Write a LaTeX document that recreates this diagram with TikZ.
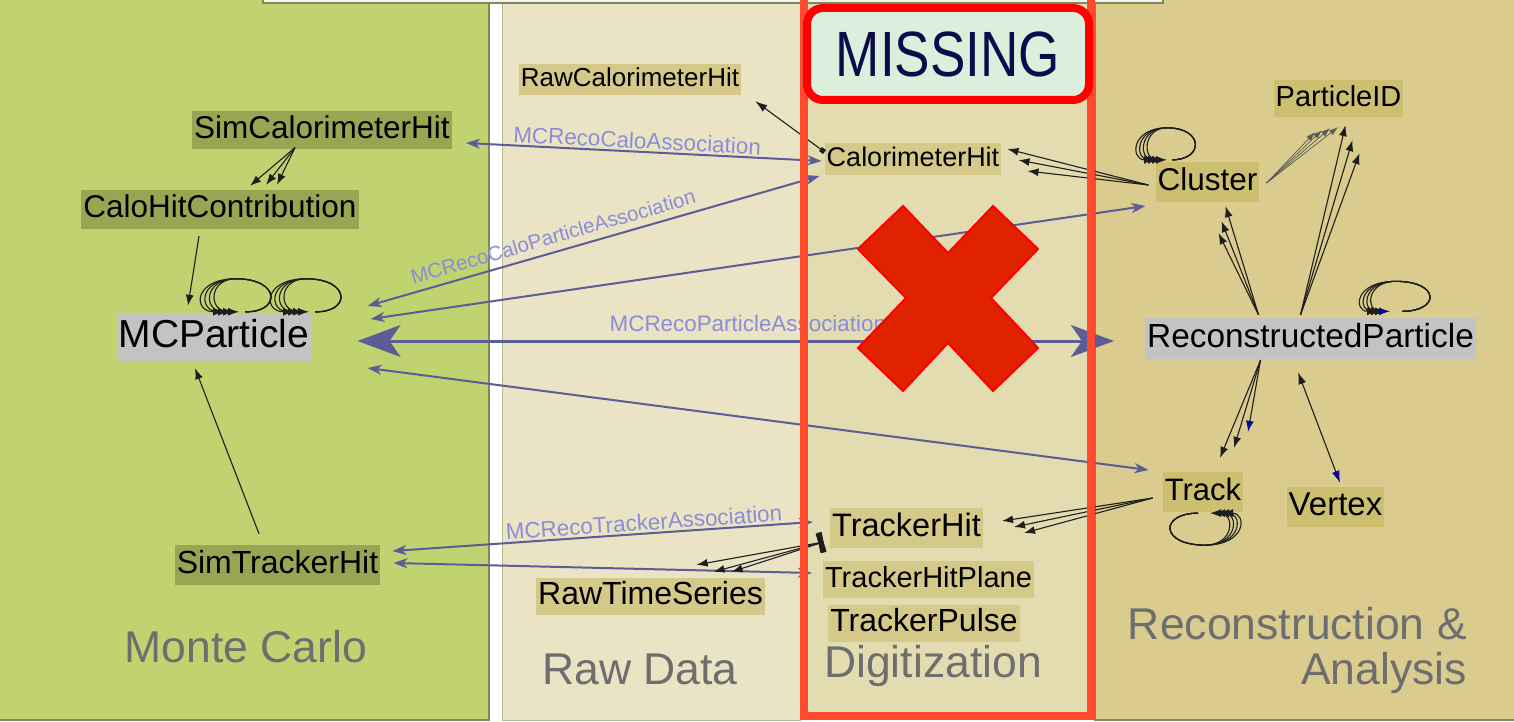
\documentclass[tikz,border=0pt]{standalone}
\usepackage{fontspec}
\setmainfont{Liberation Sans}
\newfontfamily\narrowfont[FakeStretch=0.83]{Liberation Sans}
\usepackage{tikz}
\usetikzlibrary{arrows.meta, calc}
\definecolor{mcpanel}{HTML}{C1D270}
\definecolor{rawpanel}{HTML}{EAE4C5}
\definecolor{digipanel}{HTML}{E4DCB1}
\definecolor{recopanel}{HTML}{DACC8E}
\definecolor{paneledge}{HTML}{7F8A55}
\definecolor{rawedge}{HTML}{B4B88F}
\definecolor{topbar}{HTML}{F2F2F2}
\definecolor{mcdark}{HTML}{9AA553}
\definecolor{greybox}{HTML}{C3C3C3}
\definecolor{rawbox}{HTML}{D5C98A}
\definecolor{recobox}{HTML}{CCBF70}
\definecolor{titlegrey}{HTML}{6E6E6E}
\definecolor{assocline}{HTML}{5C5C96}
\definecolor{assoctext}{HTML}{8C8CD8}
\definecolor{relline}{HTML}{1E1E1E}
\definecolor{tipblue}{HTML}{0A0A96}
\definecolor{missedge}{HTML}{FF4B2B}
\definecolor{missfill}{HTML}{DCEEDC}
\definecolor{misstext}{HTML}{0C0C4C}
\definecolor{xred}{HTML}{E02200}
\tikzset{
  dtype/.style={font=\fontsize{#1}{#1}\selectfont, execute at begin node=\rule[-.21em]{0pt}{.95em}, inner xsep=2pt, inner ysep=4.6pt},
  region/.style={font=\fontsize{44.5}{45}\selectfont, text=titlegrey, inner sep=0pt},
  assoc/.style={draw=assocline, line width=2pt, {Stealth[length=14pt,width=10pt,inset=4pt]}-{Stealth[length=14pt,width=10pt,inset=4pt]}},
  assocbig/.style={draw=assocline, line width=3pt, {Stealth[length=43pt,width=32pt,inset=11pt]}-{Stealth[length=43pt,width=32pt,inset=11pt]}},
  assoclabel/.style={font=\fontsize{22.4}{22.4}\selectfont, text=assoctext, inner sep=2pt},
  rel/.style={draw=relline, line width=1.1pt, -{Latex[length=11pt,width=8pt]}},
  bluetip/.style={-{Latex[length=11pt,width=8pt,color=tipblue]}},
  pidline/.style={draw=black!65, line width=.7pt, -{Latex[length=9pt,width=6pt]}}
}

\begin{document}
\begin{tikzpicture}[x=1pt, y=-1pt]
\useasboundingbox (0,0) rectangle (1514,722);
\fill[white] (0,0) rectangle (1514,722);
\filldraw[fill=mcpanel, draw=paneledge, line width=1.5pt] (-5,-5) rectangle (489,720);
\filldraw[fill=rawpanel, draw=rawedge, line width=1pt] (502,-5) rectangle (800,720);
\fill[digipanel] (800,-5) rectangle (1095,720);
\filldraw[fill=recopanel, draw=paneledge, line width=1.5pt] (1095,-5) rectangle (1520,720);
\filldraw[fill=topbar, draw=paneledge, line width=1.5pt] (263,-6) rectangle (1163,3);

\node[dtype=31.5, fill=mcdark, inner ysep=4.5pt] (simcalo) at (322,130) {SimCalorimeterHit};
\node[dtype=31.5, fill=mcdark, inner ysep=4.5pt] (calocontrib) at (220,209.5) {CaloHitContribution};
\node[dtype=39, fill=greybox, inner ysep=5pt] (mcp) at (214,337.5) {MCParticle};
\node[dtype=32, fill=mcdark, inner ysep=4.8pt] (simtrk) at (277.5,565) {SimTrackerHit};
\node[dtype=26, fill=rawbox, inner ysep=3.2pt] (rawcalo) at (630,79.5) {RawCalorimeterHit};
\node[dtype=32, fill=rawbox, inner ysep=3.3pt] (rawts) at (650.5,596.5) {RawTimeSeries};
\node[dtype=27, fill=rawbox, inner ysep=3.2pt] (calohit) at (913,159) {CalorimeterHit};
\node[dtype=32.5, fill=rawbox, inner ysep=4.5pt] (trkhit) at (906.5,528) {TrackerHit};
\node[dtype=29, fill=rawbox, inner ysep=4.7pt] (trkplane) at (928.5,579.5) {TrackerHitPlane};
\node[dtype=32, fill=rawbox, inner ysep=3.3pt] (trkpulse) at (924,623.5) {TrackerPulse};
\node[dtype=31.5, fill=recobox, inner ysep=5pt] (cluster) at (1207.5,182) {Cluster};
\node[dtype=29, fill=recobox, inner ysep=4.7pt] (pid) at (1338.5,98.5) {ParticleID};
\node[dtype=33.4, fill=greybox] (reco) at (1310.5,338.5) {ReconstructedParticle};
\node[dtype=31, fill=recobox, inner ysep=5.2pt] (track) at (1203,492) {Track};
\node[dtype=33, fill=recobox, inner ysep=4.3pt] (vertex) at (1335.5,507) {Vertex};

\node[region, anchor=base] (mctitle) at (246,662) {Monte Carlo};
\node[region, anchor=base] (rawtitle) at (640,684) {Raw Data};
\node[region, anchor=base] (digititle) at (933,677) {Digitization};
\node[region, anchor=north east, align=right] (recotitle) at (1467,607) {Reconstruction \&\\Analysis};

\draw[assoc] ($(simcalo.east)+(14,13)$) -- node[assoclabel, sloped, above, pos=.48] {MCRecoCaloAssociation} ($(calohit.west)+(-3,2)$);
\draw[assoc] ($(mcp.east)+(56,-31.5)$) -- node[assoclabel, font=\fontsize{20.5}{20.5}\selectfont, sloped, above=5pt, pos=.42] {MCRecoCaloParticleAssociation} ($(calohit.west)+(-5,17)$);
\draw[assoc] ($(mcp.east)+(59,-18.5)$) -- ($(cluster.west)+(-10,24)$);
\draw[assocbig] ($(mcp.east)+(46,3.5)$) -- node[assoclabel, above=6pt, pos=.516] {MCRecoParticleAssociation} ($(reco.west)+(-31,2.5)$);
\draw[assoc] ($(mcp.east)+(56,30.5)$) -- ($(track.west)+(-14,-22)$);
\draw[assoc] ($(simtrk.east)+(12,-14)$) -- node[assoclabel, sloped, above, pos=.6] {MCRecoTrackerAssociation} ($(trkhit.west)+(-17,-6)$);
\draw[assoc] ($(simtrk.east)+(13,-2)$) -- ($(trkplane.west)+(-11,-6.5)$);

\foreach \dx/\dy in {30/-4, 46/-5, 57/-5}
  \draw[rel] ($(simcalo.south)+(-27,-2)$) -- ($(calocontrib.north)+(\dx,\dy)$);
\draw[rel] ($(calocontrib.south)+(-21,7)$) -- ($(mcp.north)+(-26,-8)$);
\draw[rel] ($(simtrk.north)+(-18.5,-11)$) -- ($(mcp.south)+(-19,7)$);
\begin{scope}[shift={(mcp.north)}]
  \foreach \g in {0,70}
    \foreach \d in {0,5,10,15}
      \draw[rel] (31+\g,-2) .. controls (67+\g,-1) and (67+\g,-35) .. (22+\g,-35) .. controls (-21+\g+\d,-35) and (-21+\g+\d,-2) .. (10+\g+\d,-2);
\end{scope}

\draw[rel, {Square[length=5pt,width=5pt]}-{Latex[length=12pt,width=8pt]}] ($(calohit.west)+(0,-7)$) -- ($(rawcalo.south east)+(14,6)$);
\foreach \dx/\dy in {6/-10, 17/1, 26/12}
  \draw[rel] ($(cluster.west)+(-7,3)$) -- ($(calohit.east)+(\dx,\dy)$);
\begin{scope}[shift={(cluster.north)}]
  \foreach \d in {0,4,8,12}
    \draw[rel] (-35.5,-2) .. controls (-3.5,-2) and (-3.5,-34) .. (-40.5,-34) .. controls (-77+\d,-34) and (-77+\d,-2) .. (-52.5+\d,-2);
\end{scope}
\foreach \dx/\dy in {-23.5/15, -16.5/13, -8.5/11, -0.5/10}
  \draw[pidline] ($(cluster.east)+(7,1)$) -- ($(pid.south)+(\dx,\dy)$);
\foreach \dx/\dy in {7/8, 14/23, 21/36}
  \draw[rel] ($(reco.north)+(-10,-3)$) -- ($(pid.south)+(\dx,\dy)$);
\foreach \dx/\dy in {18/4, 14/19, 11/31}
  \draw[rel] ($(reco.north)+(-52,-3)$) -- ($(cluster.south)+(\dx,\dy)$);
\begin{scope}[shift={(reco.north)}]
  \foreach \d/\s in {0/rel, 4/rel, 8/rel, 12/bluetip}
    \draw[rel, \s] (91.5,-6.5) .. controls (129.8,-6.5) and (129.8,-36.5) .. (85.5,-36.5) .. controls (43.2+\d,-36.5) and (43.2+\d,-6.5) .. (67.5+\d,-6.5);
\end{scope}
\foreach \dx/\dy/\s in {17/-14/rel, 31/-24/rel, 45/-40/bluetip}
  \draw[rel, \s] ($(reco.south)+(-50,1)$) -- ($(track.north)+(\dx,\dy)$);
\draw[rel, {Latex[length=12pt,width=8pt]}-{Latex[length=12pt,width=8pt,color=tipblue]}] ($(reco.south)+(-12.5,13)$) -- ($(vertex.north)+(4.5,-4)$);
\foreach \dx/\dy in {19/-7, 31/-1, 41/5}
  \draw[rel] ($(track.west)+(-10,6)$) -- ($(trkhit.east)+(\dx,\dy)$);
\begin{scope}[shift={(track.south)}]
  \foreach \d in {0,4,8,12}
    \draw[rel] (-5,1) .. controls (-43.5,1) and (-43.5,33) .. (2,33) .. controls (31.8+\d,33) and (31.8+\d,1) .. (7+\d,1);
\end{scope}
\foreach \dx/\dy in {-68.4/-13, -51.4/-6, -33.4/-6}
  \draw[rel, {Rectangle[length=5pt,width=20pt]}-{Latex[length=11pt,width=8pt]}] ($(trkhit.west)+(-6.5,14)$) -- ($(rawts.north east)+(\dx,\dy)$);

\draw[missedge, line width=8pt] (804,-10) rectangle (1091,716);
\filldraw[fill=xred, draw=red, line width=2pt] (903,206) -- (948,253) -- (993,206) -- (1038,249) -- (991,298) -- (1038,348) -- (993,391) -- (948,343) -- (903,391) -- (858,348) -- (906,298) -- (858,249) -- cycle;
\node[draw=red, line width=8pt, fill=missfill, rounded corners=16pt, minimum width=282pt, minimum height=92pt, text=misstext, font=\narrowfont\fontsize{64}{64}\selectfont] (missing) at (948,54) {MISSING};
\end{tikzpicture}
\end{document}
